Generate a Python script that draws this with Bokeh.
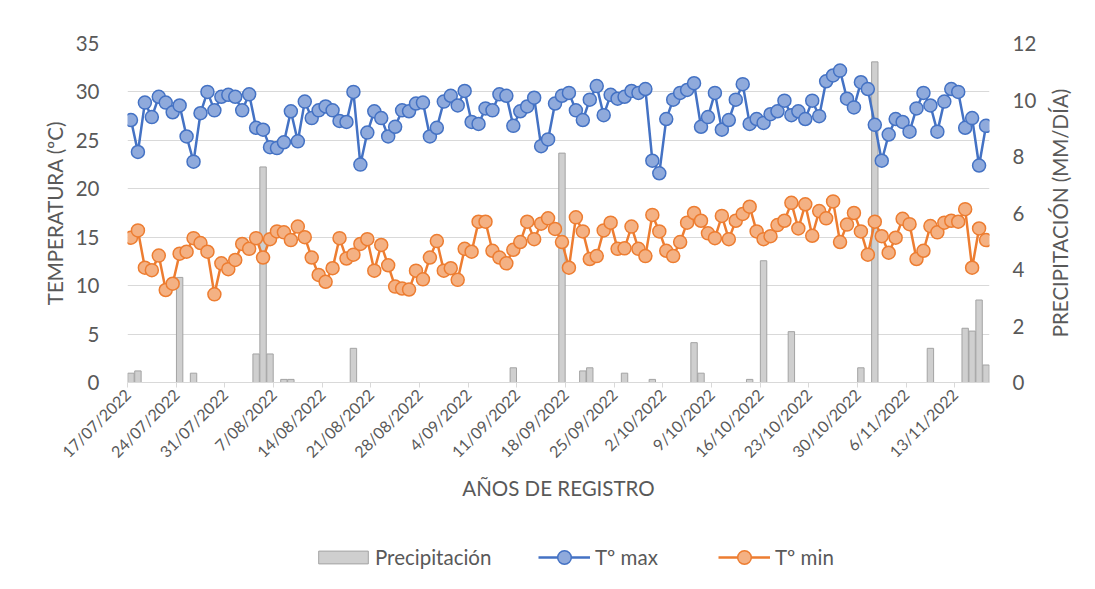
from math import pi
from bokeh.plotting import figure
from bokeh.layouts import column, row
from bokeh.models import Range1d, LinearAxis, FixedTicker, Legend, LegendItem
from bokeh.core.properties import value
from bokeh.embed import file_html
from bokeh.resources import INLINE

# ---- data (daily, 17/07/2022 .. 17/11/2022) ----
tmax = [27.1, 23.8, 28.9, 27.4, 29.5, 28.9, 27.9, 28.6, 25.4, 22.8,
        27.8, 30.0, 28.1, 29.5, 29.7, 29.5, 28.1, 29.75, 26.3, 26.1,
        24.3, 24.2, 24.8, 28.0, 24.9, 29.0, 27.3, 28.1, 28.5, 28.1,
        27.0, 26.9, 30.0, 22.5, 25.8, 28.0, 27.3, 25.4, 26.4, 28.1,
        28.0, 28.8, 28.9, 25.4, 26.3, 29.0, 29.6, 28.6, 30.1, 26.9,
        26.7, 28.3, 28.1, 29.75, 29.6, 26.5, 28.0, 28.5, 29.4, 24.4,
        25.1, 28.8, 29.6, 29.9, 28.1, 27.1, 29.2, 30.6, 27.6, 29.7,
        29.3, 29.5, 30.1, 29.9, 30.3, 22.9, 21.6, 27.2, 29.2, 29.9,
        30.2, 30.9, 26.4, 27.4, 29.9, 26.1, 27.1, 29.2, 30.8, 26.7,
        27.2, 26.8, 27.7, 28.0, 29.1, 27.6, 28.0, 27.2, 29.1, 27.5,
        31.1, 31.7, 32.2, 29.3, 28.4, 31.0, 30.3, 26.6, 22.9, 25.6,
        27.2, 26.9, 25.9, 28.3, 29.9, 28.6, 25.9, 29.0, 30.3, 30.0,
        26.3, 27.3, 22.4, 26.5]

tmin = [14.95, 15.7, 11.85, 11.6, 13.1, 9.55, 10.2, 13.3, 13.5, 14.9,
        14.4, 13.5, 9.1, 12.3, 11.7, 12.65, 14.3, 13.8, 14.9, 12.9,
        14.8, 15.6, 15.5, 14.7, 16.1, 15.0, 12.9, 11.1, 10.4, 11.8,
        14.9, 12.8, 13.2, 14.3, 14.8, 11.55, 14.2, 12.1, 9.9, 9.7,
        9.6, 11.55, 10.65, 12.9, 14.6, 11.55, 11.8, 10.6, 13.8, 13.5,
        16.6, 16.6, 13.6, 12.9, 12.3, 13.7, 14.5, 16.6, 14.8, 16.4,
        16.95, 15.85, 14.5, 11.85, 17.05, 15.6, 12.75, 13.05, 15.7, 16.5,
        13.8, 13.85, 16.1, 13.8, 13.05, 17.3, 15.6, 13.6, 13.05, 14.5,
        16.5, 17.5, 16.7, 15.4, 14.9, 17.2, 14.8, 16.7, 17.4, 18.15,
        15.6, 14.8, 15.1, 16.25, 16.7, 18.55, 15.9, 18.4, 15.15, 17.7,
        16.95, 18.7, 14.5, 16.3, 17.5, 15.6, 13.2, 16.6, 15.1, 13.4,
        14.95, 16.9, 16.35, 12.75, 13.6, 16.15, 15.5, 16.5, 16.7, 16.6,
        17.9, 11.85, 15.9, 14.7]

precip = [0.33, 0.41, 0, 0, 0, 0, 0, 3.72, 0, 0.33,
          0, 0, 0, 0, 0, 0, 0, 0, 1.01, 7.63,
          1.01, 0, 0.11, 0.11, 0, 0, 0, 0, 0, 0,
          0, 0, 1.21, 0, 0, 0, 0, 0, 0, 0,
          0, 0, 0, 0, 0, 0, 0, 0, 0, 0,
          0, 0, 0, 0, 0, 0.52, 0, 0, 0, 0,
          0, 0, 8.12, 0, 0, 0.41, 0.52, 0, 0, 0,
          0, 0.33, 0, 0, 0, 0.11, 0, 0, 0, 0,
          0, 1.41, 0.33, 0, 0, 0, 0, 0, 0, 0.11,
          0, 4.31, 0, 0, 0, 1.80, 0, 0, 0, 0,
          0, 0, 0, 0, 0, 0.52, 0, 11.35, 0, 0,
          0, 0, 0, 0, 0, 1.21, 0, 0, 0, 0,
          1.92, 1.82, 2.92, 0.62]

tick_labels = ["17/07/2022", "24/07/2022", "31/07/2022", "7/08/2022", "14/08/2022",
               "21/08/2022", "28/08/2022", "4/09/2022", "11/09/2022", "18/09/2022",
               "25/09/2022", "2/10/2022", "9/10/2022", "16/10/2022", "23/10/2022",
               "30/10/2022", "6/11/2022", "13/11/2022"]

n_days = len(tmax)
xs = [i + 0.5 for i in range(n_days)]                 # day centres
tick_pos = [7 * k for k in range(len(tick_labels))]   # day boundaries
bar_x = [x for x, v in zip(xs, precip) if v > 0]
bar_v = [v for v in precip if v > 0]

GREY = "#595959"
FONT = "Lato"
FS = "20.5px"
BLUE, BLUE_F = "#4472c4", "#8faadc"
ORANGE, ORANGE_F = "#ed7d31", "#f4b183"
BAR_F, BAR_L = "#cfcfcf", "#a3a3a3"

TOP, FH, BOT = 43, 339, 138

# ---------------- main chart ----------------
p = figure(frame_width=862, frame_height=FH,
           x_range=Range1d(0, n_days), y_range=Range1d(0, 35),
           output_backend="svg", toolbar_location=None,
           min_border_left=127, min_border_right=51, min_border_top=TOP,
           min_border_bottom=BOT)
p.outline_line_color = None
p.background_fill_color = "white"
p.border_fill_color = "white"
p.extra_y_ranges = {"precip": Range1d(0, 12)}

p.xgrid.visible = False
p.ygrid.ticker = FixedTicker(ticks=list(range(0, 36, 5)))
p.ygrid.grid_line_color = "#d9d9d9"
p.ygrid.grid_line_width = 1

ya = p.yaxis[0]
ya.ticker = FixedTicker(ticks=list(range(0, 36, 5)))
ya.axis_line_color = None
ya.major_tick_line_color = None
ya.minor_tick_line_color = None
ya.major_label_text_color = GREY
ya.major_label_text_font = FONT
ya.major_label_text_font_size = FS
ya.major_label_standoff = 22
ya.axis_label = "TEMPERATURA (ºC)"
ya.axis_label_text_font = FONT
ya.axis_label_text_font_style = "normal"
ya.axis_label_text_font_size = FS
ya.axis_label_text_color = GREY
ya.axis_label_standoff = 6

ra = LinearAxis(y_range_name="precip", ticker=FixedTicker(ticks=list(range(0, 13, 2))))
ra.axis_line_color = None
ra.major_tick_line_color = None
ra.minor_tick_line_color = None
ra.major_label_text_color = GREY
ra.major_label_text_font = FONT
ra.major_label_text_font_size = FS
ra.major_label_standoff = 17
p.add_layout(ra, "right")

xa = p.xaxis[0]
xa.ticker = FixedTicker(ticks=tick_pos)
xa.major_label_overrides = {t: l for t, l in zip(tick_pos, tick_labels)}
xa.major_label_orientation = pi / 4
xa.minor_tick_line_color = None
xa.axis_line_color = "#d9d9d9"
xa.major_tick_line_color = "#d9d9d9"
xa.major_tick_out = 5
xa.major_tick_in = 0
xa.major_label_standoff = 4
xa.major_label_text_color = GREY
xa.major_label_text_font = FONT
xa.major_label_text_font_size = "16px"
xa.axis_label = "AÑOS DE REGISTRO"
xa.axis_label_text_font = FONT
xa.axis_label_text_font_style = "normal"
xa.axis_label_text_font_size = FS
xa.axis_label_text_color = GREY
xa.axis_label_standoff = 5

p.vbar(x=bar_x, top=bar_v, width=0.92, bottom=0, y_range_name="precip",
       fill_color=BAR_F, line_color=BAR_L, line_width=1)
p.line(xs, tmax, line_color=BLUE, line_width=2.5)
p.scatter(xs, tmax, marker="circle", size=13, fill_color=BLUE_F,
          line_color=BLUE, line_width=1.5)
p.line(xs, tmin, line_color=ORANGE, line_width=2.5)
p.scatter(xs, tmin, marker="circle", size=13, fill_color=ORANGE_F,
          line_color=ORANGE, line_width=1.5)

# ---------------- right axis title (own strip, frame aligned with main) ----------------
tf = figure(frame_width=40, frame_height=FH, x_range=Range1d(0, 40),
            y_range=Range1d(0, FH), output_backend="svg", toolbar_location=None,
            x_axis_location=None, y_axis_location=None, min_border_left=0,
            min_border_right=0, min_border_top=TOP, min_border_bottom=BOT)
tf.grid.visible = False
tf.outline_line_color = None
tf.text(x=[19.5], y=[FH - (212.5 - TOP)], text=["PRECIPITACIÓN (MM/DÍA)"], angle=pi / 2,
        text_align="center", text_baseline="middle", text_font=value(FONT),
        text_font_size=FS, text_color=GREY)

# ---------------- legend strip ----------------
lf = figure(frame_width=1080, frame_height=60, x_range=Range1d(0, 1080),
            y_range=Range1d(0, 60), output_backend="svg", toolbar_location=None,
            x_axis_location=None, y_axis_location=None, min_border=0)
lf.grid.visible = False
lf.outline_line_color = None
r_bar = lf.vbar(x=[-500], top=[-500], bottom=[-501], width=1,
                fill_color=BAR_F, line_color=BAR_L, line_width=1)
r_l1 = lf.line(x=[-500, -499], y=[-500, -500], line_color=BLUE, line_width=2.5)
r_s1 = lf.scatter(x=[-500], y=[-500], marker="circle", size=13, fill_color=BLUE_F,
                  line_color=BLUE, line_width=1.5)
r_l2 = lf.line(x=[-500, -499], y=[-500, -500], line_color=ORANGE, line_width=2.5)
r_s2 = lf.scatter(x=[-500], y=[-500], marker="circle", size=13, fill_color=ORANGE_F,
                  line_color=ORANGE, line_width=1.5)


def make_legend(items, x, y, gw, gh, standoff):
    lg = Legend(items=items, location=(x, y), orientation="horizontal",
                glyph_width=gw, glyph_height=gh, padding=0, margin=0,
                label_text_font=FONT, label_text_font_size=FS,
                label_text_color=GREY, label_standoff=standoff,
                border_line_color=None, background_fill_alpha=0)
    lf.add_layout(lg, "center")


make_legend([LegendItem(label="Precipitación", renderers=[r_bar])], 312, 11, 62, 16, 1)
make_legend([LegendItem(label="Tº max", renderers=[r_l1, r_s1])], 538, 6, 52, 34, 5)
make_legend([LegendItem(label="Tº min", renderers=[r_l2, r_s2])], 718, 6, 52, 34, 5)

layout = column(row(p, tf), lf)
open("out.html", "w").write(file_html(layout, INLINE))
